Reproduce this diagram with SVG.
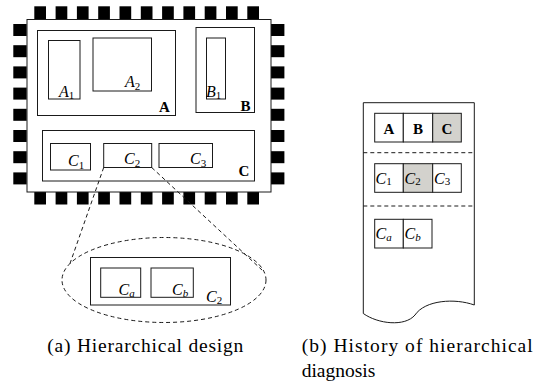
<svg xmlns="http://www.w3.org/2000/svg" width="546" height="387" viewBox="0 0 546 387">
  <style>
    text { font-family: 'Liberation Serif', serif; fill: #000; }
    .box { fill: #fff; stroke: #1a1a1a; stroke-width: 1; }
    .hl { fill: #d3d2cd; stroke: #1a1a1a; stroke-width: 1; }
    .pin { fill: #000; }
    .dash { fill: none; stroke: #1a1a1a; stroke-width: 1; stroke-dasharray: 4 3; }
    .lbl { font-style: italic; font-size: 16px; }
    .n { font-style: normal; font-size: 11px; }
    .s { font-size: 11px; }
    .bold { font-weight: bold; font-size: 15px; }
    .cap { font-size: 19.5px; }
  </style>
  <defs>
    <rect id="pinH" width="11.7" height="13" class="pin"/>
    <rect id="pinV" width="13.4" height="12" class="pin"/>
  </defs>

  <!-- chip package pins -->
  <g id="pins">
    <use href="#pinH" x="34.3" y="6.3"/><use href="#pinH" x="55.6" y="6.3"/><use href="#pinH" x="76.9" y="6.3"/><use href="#pinH" x="98.2" y="6.3"/><use href="#pinH" x="119.5" y="6.3"/><use href="#pinH" x="140.8" y="6.3"/><use href="#pinH" x="162.1" y="6.3"/><use href="#pinH" x="183.4" y="6.3"/><use href="#pinH" x="204.7" y="6.3"/><use href="#pinH" x="226" y="6.3"/><use href="#pinH" x="247.3" y="6.3"/>
    <use href="#pinH" x="34.3" y="191.5"/><use href="#pinH" x="55.6" y="191.5"/><use href="#pinH" x="76.9" y="191.5"/><use href="#pinH" x="98.2" y="191.5"/><use href="#pinH" x="119.5" y="191.5"/><use href="#pinH" x="140.8" y="191.5"/><use href="#pinH" x="162.1" y="191.5"/><use href="#pinH" x="183.4" y="191.5"/><use href="#pinH" x="204.7" y="191.5"/><use href="#pinH" x="226" y="191.5"/><use href="#pinH" x="247.3" y="191.5"/>
    <use href="#pinV" x="13.3" y="24"/><use href="#pinV" x="13.3" y="45.2"/><use href="#pinV" x="13.3" y="66.4"/><use href="#pinV" x="13.3" y="87.6"/><use href="#pinV" x="13.3" y="108.8"/><use href="#pinV" x="13.3" y="130"/><use href="#pinV" x="13.3" y="151.2"/><use href="#pinV" x="13.3" y="172.4"/>
    <use href="#pinV" x="271" y="24"/><use href="#pinV" x="271" y="45.2"/><use href="#pinV" x="271" y="66.4"/><use href="#pinV" x="271" y="87.6"/><use href="#pinV" x="271" y="108.8"/><use href="#pinV" x="271" y="130"/><use href="#pinV" x="271" y="151.2"/><use href="#pinV" x="271" y="172.4"/>
  </g>

  <!-- chip body -->
  <g id="chip">
    <rect class="box" x="27" y="19.5" width="244" height="172.5"/>
  </g>

  <g id="blockA">
    <rect class="box" x="37.5" y="30.5" width="138" height="85"/>
    <text class="bold" x="159" y="111.5">A</text>
  </g>
  <g id="A1">
    <rect class="box" x="48.5" y="40.5" width="31.5" height="58.5"/>
    <text class="lbl" x="59" y="96.5">A<tspan class="n" dy="2.5">1</tspan></text>
  </g>
  <g id="A2">
    <rect class="box" x="93" y="38" width="58.5" height="53"/>
    <text class="lbl" x="125" y="87">A<tspan class="n" dy="2.5">2</tspan></text>
  </g>

  <g id="blockB">
    <rect class="box" x="196" y="27.5" width="58.5" height="85"/>
    <text class="bold" x="240.5" y="110.5">B</text>
  </g>
  <g id="B1">
    <rect class="box" x="206.5" y="38" width="19" height="61"/>
    <text class="lbl" x="206" y="96.5">B<tspan class="n" dy="2.5">1</tspan></text>
  </g>

  <g id="blockC">
    <rect class="box" x="42.5" y="130.5" width="212" height="50.5"/>
    <text class="bold" x="238.5" y="176">C</text>
  </g>
  <g id="C1">
    <rect class="box" x="50.5" y="143.5" width="40" height="26.5"/>
    <text class="lbl" x="68" y="166">C<tspan class="n" dy="2.5">1</tspan></text>
  </g>
  <g id="C2">
    <rect class="box" x="103.7" y="143.5" width="48" height="24"/>
    <text class="lbl" x="124" y="164">C<tspan class="n" dy="2.5">2</tspan></text>
  </g>
  <g id="C3">
    <rect class="box" x="159" y="143.5" width="53.5" height="24"/>
    <text class="lbl" x="190" y="164">C<tspan class="n" dy="2.5">3</tspan></text>
  </g>

  <!-- zoom-in of C2 -->
  <g id="connectors">
    <line class="dash" x1="103.7" y1="167.5" x2="70" y2="263.5"/>
    <line class="dash" x1="151.7" y1="167.5" x2="262" y2="270"/>
    <ellipse class="dash" cx="164" cy="280" rx="102" ry="42.5"/>
  </g>

  <g id="C2detail">
    <rect class="box" x="90.5" y="257.5" width="140" height="47.5"/>
    <text class="lbl" x="206" y="301.5">C<tspan class="n" dy="2.5">2</tspan></text>
  </g>
  <g id="Ca">
    <rect class="box" x="100.7" y="268" width="40" height="29.3"/>
    <text class="lbl" x="118.5" y="294.5">C<tspan class="s" dy="2.5">a</tspan></text>
  </g>
  <g id="Cb">
    <rect class="box" x="151" y="268" width="42.3" height="29.3"/>
    <text class="lbl" x="172" y="294.5">C<tspan class="s" dy="2.5">b</tspan></text>
  </g>

  <!-- diagnosis history sheet -->
  <g id="history">
    <path class="box" d="M363.3,102.7 H474.3 V305 C455,298 425,300 415,315 C405,327 378,324 363.3,313.5 Z"/>
    <line class="dash" x1="363.3" y1="152.7" x2="474.3" y2="152.7"/>
    <line class="dash" x1="363.3" y1="206" x2="474.3" y2="206"/>
  </g>

  <g id="row1">
    <rect class="box" x="374.7" y="113.3" width="28.6" height="28.7"/>
    <rect class="box" x="403.3" y="113.3" width="29.4" height="28.7"/>
    <rect class="hl" x="432.7" y="113.3" width="28.6" height="28.7"/>
    <text class="bold" x="389" y="133.5" text-anchor="middle">A</text>
    <text class="bold" x="418" y="133.5" text-anchor="middle">B</text>
    <text class="bold" x="447" y="133.5" text-anchor="middle">C</text>
  </g>
  <g id="row2">
    <rect class="box" x="374.7" y="163.7" width="28.6" height="28.6"/>
    <rect class="hl" x="403.3" y="163.7" width="29.4" height="28.6"/>
    <rect class="box" x="432.7" y="163.7" width="28.6" height="28.6"/>
    <text class="lbl" x="375.5" y="183.5">C<tspan class="n" dy="1.5">1</tspan></text>
    <text class="lbl" x="404.5" y="183.5">C<tspan class="n" dy="1.5">2</tspan></text>
    <text class="lbl" x="434" y="183.5">C<tspan class="n" dy="1.5">3</tspan></text>
  </g>
  <g id="row3">
    <rect class="box" x="374.7" y="219.3" width="28.6" height="28.7"/>
    <rect class="box" x="403.3" y="219.3" width="28.7" height="28.7"/>
    <text class="lbl" x="375.5" y="239">C<tspan class="s" dy="1.5">a</tspan></text>
    <text class="lbl" x="404.5" y="239">C<tspan class="s" dy="1.5">b</tspan></text>
  </g>

  <!-- captions -->
  <g id="captions">
    <text class="cap" x="47.3" y="352" textLength="196" lengthAdjust="spacing">(a) Hierarchical design</text>
    <text class="cap" x="301.7" y="352" textLength="231" lengthAdjust="spacing">(b) History of hierarchical</text>
    <text class="cap" x="301.7" y="377">diagnosis</text>
  </g>
</svg>
